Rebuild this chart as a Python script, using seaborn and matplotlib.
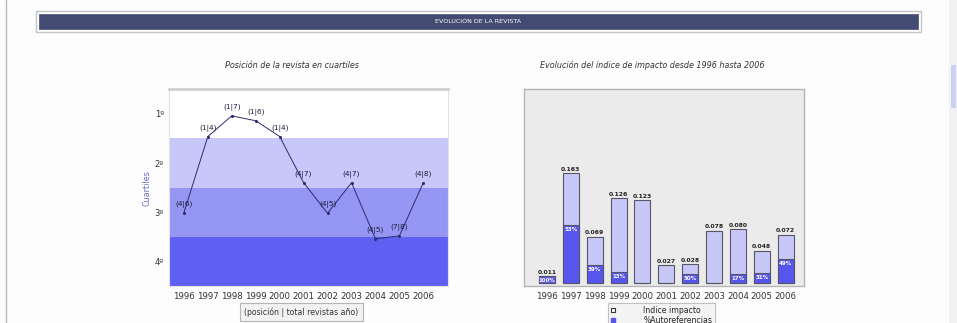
import matplotlib
matplotlib.use("Agg")
from matplotlib import pyplot as plt
from matplotlib.patches import Rectangle, Patch
import seaborn as sns
import pandas as pd

# data
years = [1996, 1997, 1998, 1999, 2000, 2001, 2002, 2003, 2004, 2005, 2006]
quartile_pos = [3.01, 1.46, 1.04, 1.14, 1.46, 2.40, 3.02, 2.40, 3.54, 3.48, 2.40]
rank_labels = ['(4|6)', '(1|4)', '(1|7)', '(1|6)', '(1|4)', '(4|7)', '(4|5)', '(4|7)', '(4|5)', '(7|8)', '(4|8)']
quartile_ticks = [1, 2, 3, 4]
quartile_names = ['1º', '2º', '3º', '4º']
impact = [0.011, 0.163, 0.069, 0.126, 0.123, 0.027, 0.028, 0.078, 0.080, 0.048, 0.072]
self_cite_pct = [100, 53, 39, 13, 0, 0, 50, 0, 17, 31, 49]

W, H = 957, 323
sns.set_theme(style="white")
plt.rcParams['font.family'] = ['DejaVu Sans']

fig = plt.figure(figsize=(W / 100, H / 100), dpi=100)
fig.patch.set_facecolor('#fdfdfd')


def fx(px):
    return px / W


def fy(py):
    return 1 - py / H


# page decorations: left rule, header bar, scrollbar
fig.add_artist(plt.Line2D([fx(6), fx(6)], [0, 1], color='#b8b8b8', lw=1))
fig.add_artist(Rectangle((fx(36), fy(32)), fx(885), 21 / H, facecolor='#ffffff',
                         edgecolor='#c4c4c4', lw=1))
fig.add_artist(Rectangle((fx(39), fy(29)), fx(879), 15 / H, facecolor='#434b72',
                         edgecolor='#434b72', lw=0.5))
fig.text(fx(478), fy(21.5), 'EVOLUCIÓN DE LA REVISTA', color='white', fontsize=4.6,
         ha='center', va='center')
fig.add_artist(Rectangle((fx(949), 0), fx(8), 1, facecolor='#f2f2f4', edgecolor='none'))
fig.add_artist(Rectangle((fx(951), fy(108)), fx(5), 43 / H, facecolor='#c9d2f2', edgecolor='none'))

# ---- left: position in quartiles ----
ax1 = fig.add_axes([fx(169.3), fy(286), fx(278.7), 196.7 / H])
ax1.axhspan(1.5, 2.5, color='#c7c7f9', lw=0)
ax1.axhspan(2.5, 3.5, color='#9595f3', lw=0)
ax1.axhspan(3.5, 4.6, color='#5f5ff2', lw=0)
df_pos = pd.DataFrame({'year': years, 'pos': quartile_pos})
sns.lineplot(data=df_pos, x='year', y='pos', ax=ax1, color='#2c2c6e', lw=0.7,
             marker='o', markersize=2.2, markeredgewidth=0)
for yr, p, lab in zip(years, quartile_pos, rank_labels):
    ax1.annotate(lab, (yr, p), xytext=(0, 3.5), textcoords='offset points', ha='center',
                 va='bottom', fontsize=5.3, color='#1e1e3c')
ax1.set_xlim(1995.39, 2007.03)
ax1.set_ylim(4.5, 0.5)
ax1.set_xticks(years)
ax1.set_xticklabels([str(y) for y in years], fontsize=6.2, color='#333333')
ax1.set_yticks(quartile_ticks)
ax1.set_yticklabels(quartile_names, fontsize=6, color='#333333')
ax1.tick_params(length=0, pad=4)
ax1.set_xlabel('')
ax1.set_ylabel('Cuartiles', fontsize=5.8, color='#6c6cc8', labelpad=2)
for side in ['left', 'right', 'bottom']:
    ax1.spines[side].set_color('#e2e2e2')
    ax1.spines[side].set_linewidth(0.8)
ax1.spines['top'].set_color('#d0d0d0')
ax1.spines['top'].set_linewidth(2)
ax1.set_facecolor('white')
fig.text(fx(292), fy(65), 'Posición de la revista en cuartiles', fontsize=5.8,
         style='italic', color='#333333', ha='center', va='center')
fig.text(fx(301.5), fy(312), '(posición | total revistas año)', fontsize=5.6, color='#333333',
         ha='center', va='center',
         bbox=dict(boxstyle='square,pad=0.55', facecolor='#f2f2f2', edgecolor='#b4b4b4', lw=0.8))

# ---- right: impact factor evolution ----
ax2 = fig.add_axes([fx(524.3), fy(286), fx(279.7), 196.7 / H])
ax2.set_facecolor('#ebebeb')
year_labels = [str(y) for y in years]
self_cite = [v * p / 100 for v, p in zip(impact, self_cite_pct)]
df_imp = pd.DataFrame({'year': year_labels, 'impact': impact, 'self': self_cite})
sns.barplot(data=df_imp, x='year', y='impact', ax=ax2, color='#c8c8f8', saturation=1,
            width=0.67, edgecolor='#555566', linewidth=0.8)
sns.barplot(data=df_imp, x='year', y='self', ax=ax2, color='#5656ef', saturation=1,
            width=0.67, edgecolor='#555566', linewidth=0.8)
for i, (v, s, p) in enumerate(zip(impact, self_cite, self_cite_pct)):
    ax2.text(i, v + 0.002, f'{v:.3f}', ha='center', va='bottom', fontsize=4.4,
             color='#222222', fontweight='bold')
    if p > 0:
        ax2.text(i, s - 0.0025, f'{p}%', ha='center', va='top', fontsize=4,
                 color='white', fontweight='bold')
ax2.set_xlim(-0.95, 10.77)
ax2.set_ylim(-0.004, 0.287)
ax2.set_yticks([])
ax2.set_xlabel('')
ax2.set_ylabel('')
ax2.set_xticks(range(len(year_labels)))
ax2.set_xticklabels(year_labels, fontsize=6.2, color='#333333')
ax2.tick_params(length=0, pad=4)
for side in ax2.spines:
    ax2.spines[side].set_color('#b4b4b4')
    ax2.spines[side].set_linewidth(1)
fig.text(fx(652), fy(65), 'Evolución del índice de impacto desde 1996 hasta 2006', fontsize=5.8,
         style='italic', color='#333333', ha='center', va='center')

handles = [Patch(facecolor='white', edgecolor='#333333', lw=0.8),
           Patch(facecolor='#5656ef', edgecolor='#5656ef')]
leg = fig.legend(handles, ['Indice impacto', '%Autoreferencias'], loc='upper left',
                 bbox_to_anchor=(fx(608), fy(303)), fontsize=5.6, frameon=True,
                 handlelength=0.6, handleheight=0.6, handletextpad=3.6, labelspacing=0.15,
                 borderpad=0.35, borderaxespad=0, fancybox=False)
leg.get_frame().set_facecolor('#f2f2f2')
leg.get_frame().set_edgecolor('#b4b4b4')
leg.get_frame().set_linewidth(0.8)

fig.savefig('out.png', dpi=100, facecolor=fig.get_facecolor())
